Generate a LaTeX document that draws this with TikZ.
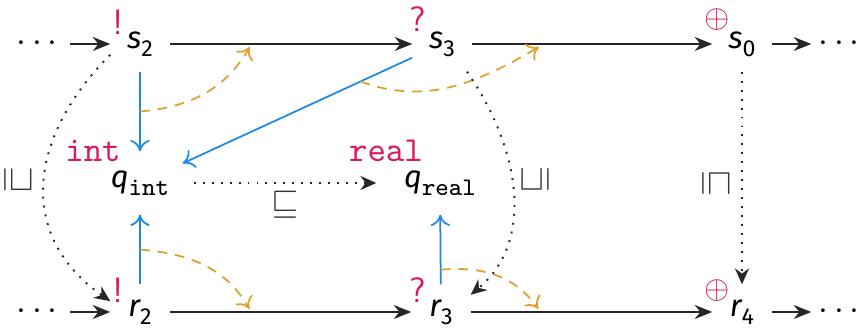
\documentclass[tikz,border=0pt]{standalone}
\usepackage{fontspec}
\setmainfont{Fira Sans}
\usetikzlibrary{arrows.meta,calc}
\definecolor{pinkc}{HTML}{D81B60}
\definecolor{bluec}{HTML}{1E88E5}
\definecolor{orangec}{HTML}{E0A030}
\newcommand{\vv}[2]{{\fontsize{8.8}{10}\selectfont\itshape #1}\raisebox{-0.45ex}{\fontsize{6.6}{8}\selectfont #2}}
\newcommand{\vq}[1]{{\fontsize{8.8}{10}\selectfont\itshape q}\raisebox{-0.45ex}{\fontsize{7.2}{8}\selectfont\ttfamily #1}}
\begin{document}
\begin{tikzpicture}[x=0.01cm,y=-0.01cm,
  vnode/.style={minimum width=0.58cm,minimum height=0.54cm,inner sep=0pt},
  qnode/.style={minimum width=0.84cm,minimum height=0.62cm,inner sep=0pt},
  dotsnode/.style={minimum width=0.64cm,minimum height=0.54cm,inner sep=0pt},
  annot/.style={text=pinkc,inner sep=0pt,font=\sffamily},
  rel/.style={text=black!80,inner sep=0pt},
  flow/.style={draw=black!85,line width=0.5pt,-{Stealth[length=5pt,width=4pt]}},
  proj/.style={draw=bluec,line width=0.5pt,-{To[length=3.2pt,width=5.5pt]}},
  eff/.style={draw=orangec,line width=0.5pt,dash pattern=on 2.8pt off 2.2pt,-{To[length=3.2pt,width=5.5pt]}},
  ord/.style={draw=black!85,line width=0.55pt,dotted,-{Stealth[length=4.5pt,width=4pt]}}]
\useasboundingbox (0,0) rectangle (856,328);
% top row
\node[dotsnode] (dl1) at (37,44) {$\cdots$};
\node[vnode] (s2) at (140,44) {\vv{s}{2}};
\node[vnode] (s3) at (442,44) {\vv{s}{3}};
\node[vnode] (s0) at (742,44) {\vv{s}{0}};
\node[dotsnode,minimum width=0.54cm] (dr1) at (839,44) {$\cdots$};
% middle row
\node[qnode] (qint) at (140,183) {\vq{int}};
\node[qnode] (qreal) at (440,183) {\vq{real}};
% bottom row
\node[dotsnode] (dl2) at (37,312) {$\cdots$};
\node[vnode] (r2) at (140,312) {\vv{r}{2}};
\node[vnode] (r3) at (441,312) {\vv{r}{3}};
\node[vnode] (r4) at (742,312) {\vv{r}{4}};
\node[dotsnode,minimum width=0.54cm] (dr2) at (839,312) {$\cdots$};
% annotations
\node[annot] (a2) at (118,22) {!};
\node[annot] (a3) at (418,19) {?};
\node[annot,font=\small] (a0) at (717,20) {$\oplus$};
\node[annot] (b2) at (118,290) {!};
\node[annot] (b3) at (418,290) {?};
\node[annot,font=\small] (b4) at (717,291) {$\oplus$};
\node[annot,font=\ttfamily] (tint) at (93,151) {int};
\node[annot,font=\ttfamily] (treal) at (386,151) {real};
% flow arrows
\draw[flow] (dl1) -- (s2);
\draw[flow] (s2) -- (s3);
\draw[flow] (s3) -- (s0);
\draw[flow] (s0) -- (dr1);
\draw[flow] (dl2) -- (r2);
\draw[flow] (r2) -- (r3);
\draw[flow] (r3) -- (r4);
\draw[flow] (r4) -- (dr2);
% blue projections
\draw[proj] (s2) -- (qint);
\draw[proj] (s3) -- (qint);
\draw[proj] (r2) -- (qint);
\draw[proj] (r3) -- (qreal);
% orange effects
\coordinate (o1s) at ($(s2.south)!0.5!(qint.north)$);
\coordinate (o1e) at ($(s2.east)!0.33!(s3.west)+(0,3)$);
\coordinate (o2s) at ($(s3)!0.27!(qint)$);
\coordinate (o2e) at ($(s3.east)!0.28!(s0.west)+(0,3)$);
\coordinate (o3s) at ($(r2.north)!0.5!(qint.south)$);
\coordinate (o3e) at ($(r2.east)!0.33!(r3.west)+(0,-3)$);
\coordinate (o4s) at ($(r3.north)!0.21!(qreal.south)$);
\coordinate (o4e) at ($(r3.east)!0.28!(r4.west)+(0,-3)$);
\draw[eff] (o1s) to[out=5,in=240] (o1e);
\draw[eff] (o2s) to[out=-20,in=210] (o2e);
\draw[eff] (o3s) to[out=-5,in=120] (o3e);
\draw[eff] (o4s) to[out=5,in=125] (o4e);
% orderings
\draw[ord] (s2.200) to[out=225,in=145,looseness=1.2] (r2.160);
\draw[ord] (s3.-48) to[out=-55,in=40] (r3.30);
\draw[ord] (s0) -- (r4);
\draw[ord,shorten <=0.11cm,shorten >=0.21cm] (qint) -- (qreal);
% relation labels
\node[rel,rotate=-90] (l1) at (18,180) {$\sqsupseteq$};
\node[rel,rotate=90] (l2) at (535,180) {$\sqsubseteq$};
\node[rel,rotate=-90] (l3) at (716,183) {$\sqsubseteq$};
\node[rel] (l4) at (285,205) {$\sqsubseteq$};
\end{tikzpicture}
\end{document}
